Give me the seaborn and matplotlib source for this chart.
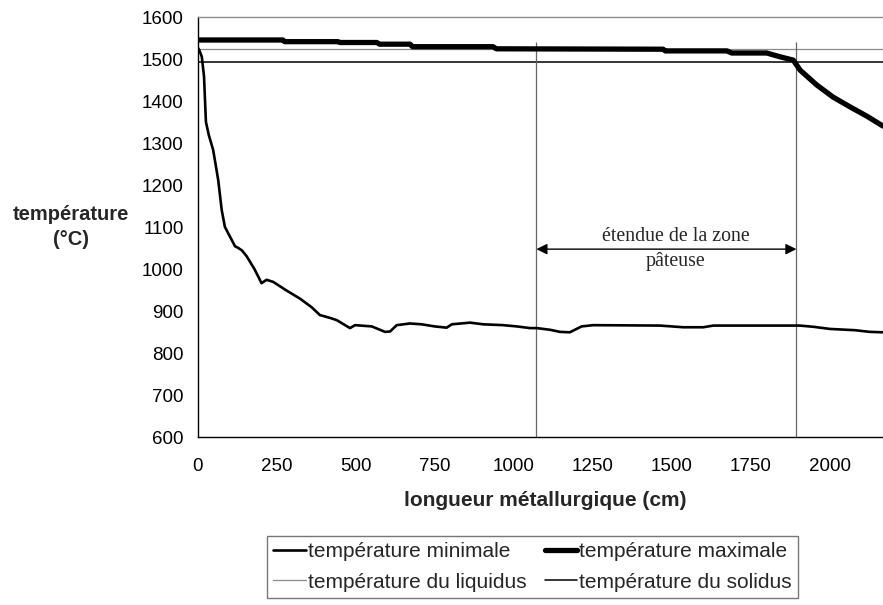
import matplotlib
matplotlib.use("Agg")
import matplotlib.pyplot as plt
import pandas as pd
import seaborn as sns
from matplotlib.lines import Line2D

# ---- data ----
x_min_cm = [0, 5, 13, 20, 26, 35, 49, 65, 76, 86, 102, 118, 128, 140, 155, 180,
            202, 218, 239, 280, 324, 360, 387, 420, 440, 482, 498, 551, 580, 593,
            609, 630, 672, 709, 750, 788, 804, 862, 904, 967, 1010, 1052, 1073,
            1115, 1147, 1178, 1215, 1252, 1463, 1537, 1600, 1632, 1801, 1906,
            1950, 2001, 2080, 2127, 2169]
t_min = [1528, 1522, 1506, 1459, 1351, 1320, 1284, 1212, 1141, 1101, 1078, 1055,
         1051, 1045, 1031, 1000, 967, 975, 970, 950, 930, 910, 891, 884, 879, 860,
         867, 864, 855, 851, 852, 867, 871, 869, 864, 861, 869, 873, 869, 867, 864,
         860, 860, 856, 851, 850, 864, 867, 866, 862, 862, 866, 866, 866, 863, 858,
         855, 851, 850]

x_max_cm = [0, 270, 275, 444, 450, 567, 575, 672, 680, 935, 945, 1473, 1480, 1675,
            1690, 1801, 1843, 1885, 1907, 1959, 2011, 2064, 2117, 2169]
t_max = [1546, 1546, 1542, 1542, 1540, 1540, 1536, 1536, 1530, 1530, 1525, 1524,
         1520, 1520, 1515, 1515, 1506, 1498, 1474, 1439, 1410, 1387, 1365, 1341]

t_liquidus = 1524
t_solidus = 1494
zone_start = 1072
zone_end = 1895
arrow_t = 1048

x_ticks = [0, 250, 500, 750, 1000, 1250, 1500, 1750, 2000]
y_ticks = [600, 700, 800, 900, 1000, 1100, 1200, 1300, 1400, 1500, 1600]

df_min = pd.DataFrame({"x": x_min_cm, "t": t_min})
df_max = pd.DataFrame({"x": x_max_cm, "t": t_max})

sns.set_style("white")
plt.rcParams["font.family"] = ["Liberation Sans", "DejaVu Sans"]

fig = plt.figure(figsize=(8.83, 6.05), dpi=100)
ax = fig.add_axes([0.2239, 0.2772, 0.7761, 0.6942])

ax.axhline(t_liquidus, color="#8a8a8a", lw=0.9, zorder=2)
ax.axhline(t_solidus, color="black", lw=1.1, zorder=2)
ax.vlines([zone_start, zone_end], 600, 1542, color="#666666", lw=0.9, zorder=2)

sns.lineplot(data=df_min, x="x", y="t", ax=ax, color="black", lw=1.9,
             estimator=None, sort=False, zorder=3)
sns.lineplot(data=df_max, x="x", y="t", ax=ax, color="black", lw=3.8,
             estimator=None, sort=False, zorder=3)

ax.annotate("", xy=(zone_start, arrow_t), xytext=(zone_end, arrow_t),
            arrowprops=dict(arrowstyle="<|-|>", color="black", lw=1.0,
                            mutation_scale=16, shrinkA=0, shrinkB=0))
ax.text((zone_start + zone_end) / 2 + 30, 1077, "étendue de la zone",
        ha="center", va="center", fontsize=14.3, family="Liberation Serif")
ax.text((zone_start + zone_end) / 2 + 30, 1018, "pâteuse",
        ha="center", va="center", fontsize=14.3, family="Liberation Serif")

ax.set_xlim(0, 2169)
ax.set_ylim(600, 1600)
ax.set_xticks(x_ticks)
ax.set_yticks(y_ticks)
ax.tick_params(axis="both", labelsize=13.5, colors="black", direction="out",
               length=4, width=0.9)
ax.tick_params(axis="x", pad=11)
ax.tick_params(axis="y", pad=6)
ax.set_xlabel("")
ax.set_ylabel("")

for side in ["left", "bottom"]:
    ax.spines[side].set_color("black")
    ax.spines[side].set_linewidth(1.0)
ax.spines["top"].set_color("#8a8a8a")
ax.spines["top"].set_linewidth(1.0)
ax.spines["right"].set_visible(False)

fig.text(545 / 883, 1 - 501 / 605, "longueur métallurgique (cm)",
         ha="center", va="center", fontsize=15, fontweight="bold")
fig.text(71 / 883, 1 - 227 / 605, "température\n(°C)", ha="center", va="center",
         fontsize=14.5, fontweight="bold", linespacing=1.45)

handles = [
    Line2D([], [], color="black", lw=1.9),
    Line2D([], [], color="#8a8a8a", lw=0.9),
    Line2D([], [], color="black", lw=3.8),
    Line2D([], [], color="black", lw=1.1),
]
labels = ["température minimale", "température du liquidus",
          "température maximale", "température du solidus"]
leg = fig.legend(handles, labels, ncol=2, loc="upper left",
                 bbox_to_anchor=(267 / 883, 1 - 536 / 605), fontsize=15,
                 frameon=True, fancybox=False, edgecolor="#555555",
                 handlelength=1.55, handletextpad=0.1, columnspacing=0.9,
                 labelspacing=0.55, borderpad=0.3, borderaxespad=0)
leg.get_frame().set_linewidth(1.0)

fig.savefig("out.png", dpi=100)
